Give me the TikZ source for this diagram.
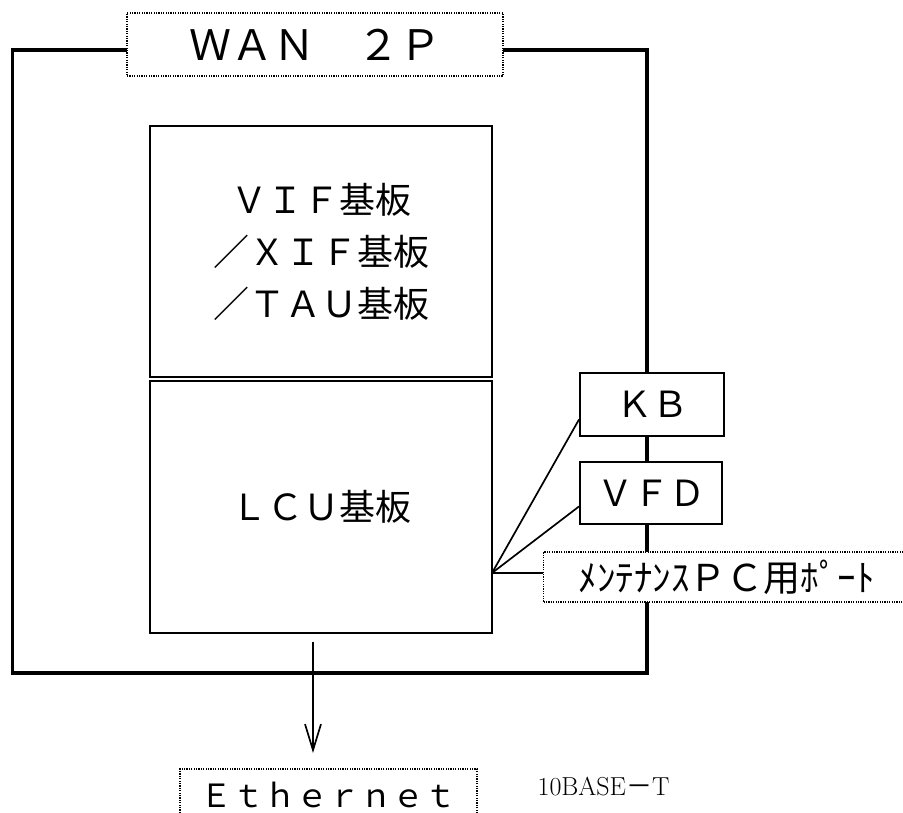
\documentclass[tikz,border=0pt]{standalone}
\usepackage{fontspec}
\newfontfamily\jp{Noto Sans CJK JP}
\usetikzlibrary{arrows.meta,calc}
\begin{document}
\begin{tikzpicture}[x=1pt,y=-1pt,
  boardbox/.style={draw,line width=1.7pt,fill=white,inner sep=0pt,align=center},
  smallbox/.style={draw,line width=1.9pt,fill=white,inner sep=0pt,align=center},
  dotbox/.style={draw,line width=1.2pt,dash pattern=on 1.2pt off 1.2pt,fill=white,inner sep=0pt},
  wire/.style={line width=1.7pt},
  bigtxt/.style={font=\jp\fontsize{36}{52}\selectfont}]
\useasboundingbox (0,0) rectangle (903,813);
% outer frame
\node[draw,line width=3.2pt,inner sep=0pt,minimum width=634.3pt,minimum height=623pt] (frame) at (329.85,361.5) {};
% title
\node[dotbox,minimum width=376pt,minimum height=63pt,font=\jp\fontsize{42}{50}\selectfont] (wan) at (315,44.5) {ＷＡＮ　２Ｐ};
% boards
\node[boardbox,bigtxt,minimum width=342pt,minimum height=251pt] (vif) at (321,251.5) {ＶＩＦ基板\\／ＸＩＦ基板\\／ＴＡＵ基板};
\node[boardbox,bigtxt,minimum width=342pt,minimum height=252pt] (lcu) at (321,507) {ＬＣＵ基板};
% side units
\node[smallbox,bigtxt,minimum width=144pt,minimum height=63pt] (kb) at (652,404.5) {ＫＢ};
\node[smallbox,bigtxt,minimum width=142pt,minimum height=62pt] (vfd) at (651,493) {ＶＦＤ};
\node[dotbox,anchor=west,minimum height=50pt,text width=302pt,inner xsep=35pt,align=left,font=\jp\fontsize{37}{44}\selectfont] (port) at (543,577) {ﾒﾝﾃﾅﾝｽＰＣ用ﾎﾟｰﾄ};
% fan-out lines
\coordinate (fan) at (492,573);
\draw[wire] (fan) -- ($(kb.south west)!0.27!(kb.north west)$);
\draw[wire] (fan) -- ($(vfd.south west)!0.29!(vfd.north west)$);
\draw[wire] (fan) -- (port.west |- fan);
% ethernet
\node[dotbox,minimum width=297pt,minimum height=52pt,font=\jp\fontsize{32}{40}\selectfont] (eth) at (328.5,795) {Ｅｔｈｅｒｎｅｔ};
\coordinate (a1) at (313,642);
\coordinate (a2) at (313,753);
\draw[wire,-{Straight Barb[length=26pt,width=16pt,line width=1.7pt]}] (a1) -- (a2);
\node[inner sep=0pt,font=\fontsize{26}{30}\selectfont] (tenbase) at (603.5,787) {10BASE{\jp －}T};
\end{tikzpicture}
\end{document}
